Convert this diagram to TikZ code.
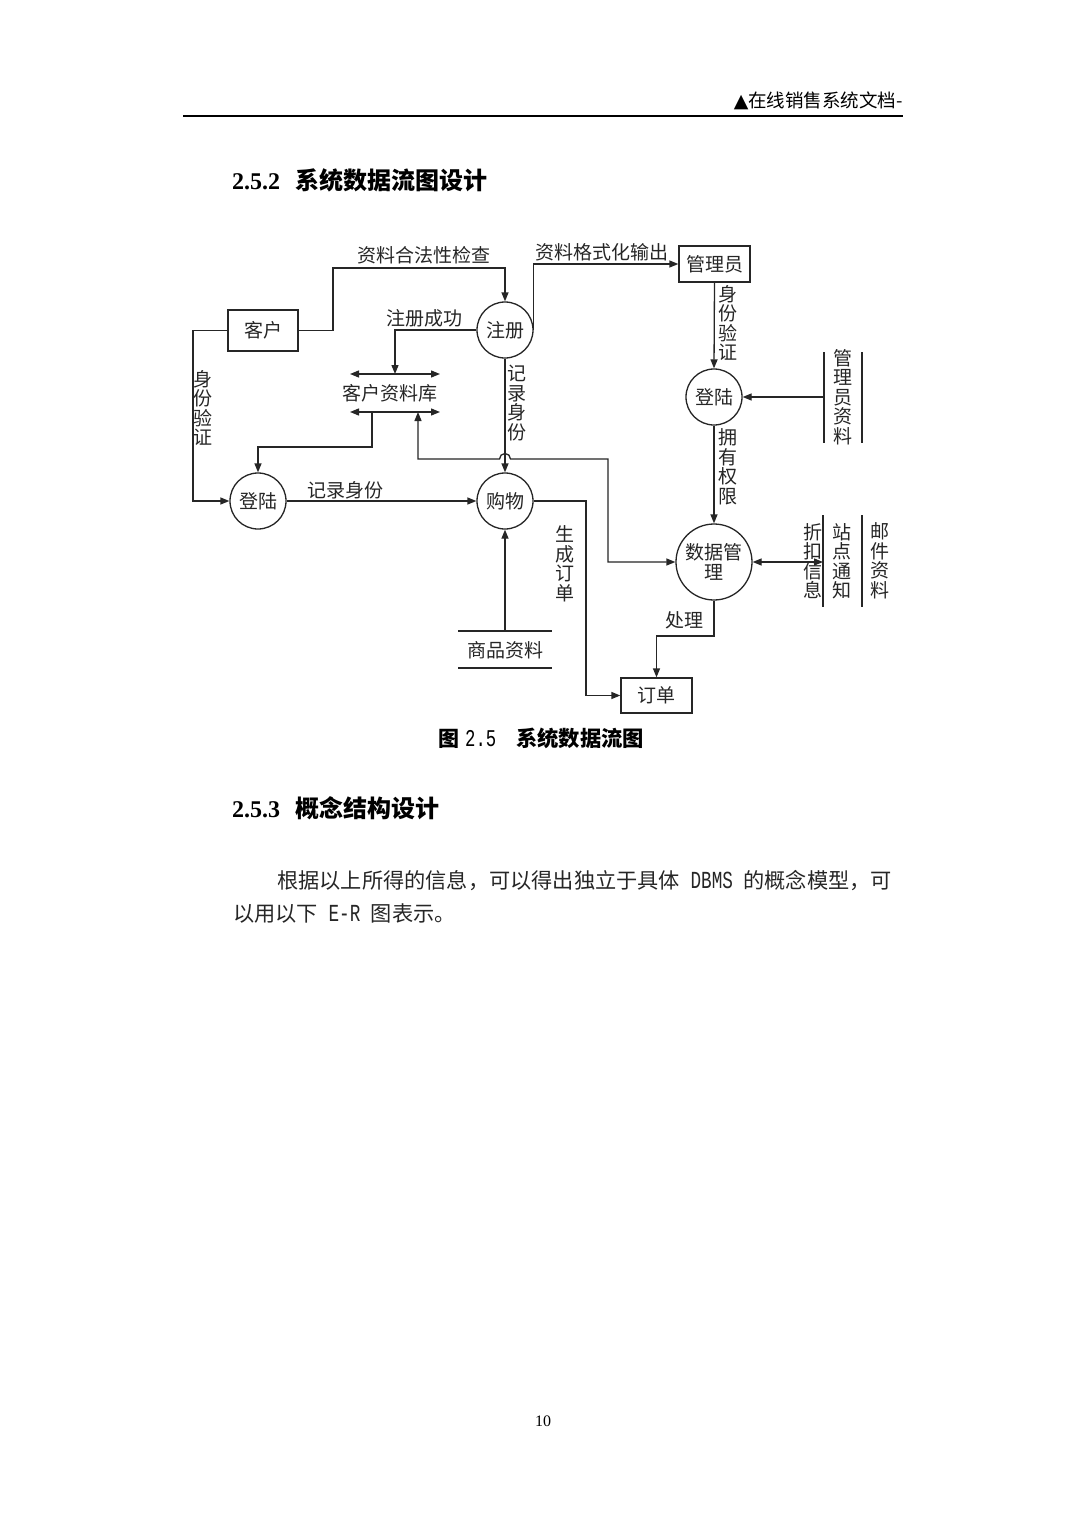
\documentclass[tikz,border=0pt]{standalone}
\usepackage{fontspec}
\setmainfont{Liberation Serif}
\newfontfamily\cjk{Noto Sans CJK SC}
\newfontfamily\monof[FakeStretch=0.72]{Liberation Mono}
\newfontfamily\symf{DejaVu Sans}
\usetikzlibrary{arrows.meta}
\newcommand\dfont{\cjk\fontsize{19}{19.5}\selectfont}
\begin{document}
\begin{tikzpicture}[x=1pt,y=-1pt,
  ln/.style={draw=black!85, line width=1.3pt},
  flow/.style={ln, -{Triangle[length=9pt,width=7pt]}},
  biflow/.style={ln, {Triangle[length=9pt,width=7pt]}-{Triangle[length=9pt,width=7pt]}},
  proc/.style={circle, draw=black!85, line width=1.3pt, minimum size=56pt, inner sep=0pt, font=\dfont, text=black!85},
  ent/.style={rectangle, draw=black!85, line width=1.3pt, inner sep=0pt, font=\dfont, text=black!85},
  lab/.style={inner sep=0pt, font=\dfont, text=black!85},
  vlab/.style={lab, align=center},
]
\useasboundingbox (0,0) rectangle (1087,1536);
\fill[white] (0,0) rectangle (1087,1536);

% ---------- page header ----------
\node[anchor=east, inner sep=0pt] (hdr) at (903,101)
  {{\symf\fontsize{19}{20}\selectfont ▲}{\cjk\fontsize{18.5}{20}\selectfont 在线销售系统文档-}};
\coordinate (rl) at (183,116);
\coordinate (rr) at (903,116);
\draw[line width=2.6pt] (rl) -- (rr);

% ---------- heading ----------
\node[anchor=west, inner sep=0pt] (h1) at (232,180)
  {{\fontsize{24}{26}\selectfont\bfseries 2.5.2}\hspace{15pt}{\cjk\fontsize{24}{26}\selectfont\bfseries 系统数据流图设计}};

% ---------- entities & processes ----------
\node[ent, minimum width=70pt, minimum height=41pt] (kh) at (263,330.5) {客户};
\node[ent, minimum width=71pt, minimum height=36pt] (gly) at (714.5,264) {管理员};
\node[ent, minimum width=71pt, minimum height=35pt] (dd) at (656.5,695.5) {订单};
\node[proc] (zc) at (505,330) {注册};
\node[proc] (dl1) at (258,501) {登陆};
\node[proc] (gw) at (505,501) {购物};
\node[proc] (dl2) at (714,397) {登陆};
\node[proc, minimum size=76pt, align=center] (sj) at (714,562) {数据管\\理};

% ---------- data stores ----------
% 客户资料库
\node[lab] (kzk) at (390,393) {客户资料库};
\coordinate (k1) at (350,374); \coordinate (k2) at (440,374);
\coordinate (k3) at (350,412); \coordinate (k4) at (440,412);
\draw[biflow] (k1) -- (k2);
\draw[biflow] (k3) -- (k4);
\coordinate (kin) at (395,374);
\coordinate (kout) at (372,412);
\coordinate (kin2) at (418,412);

% 商品资料
\node[lab] (spzl) at (505,650) {商品资料};
\coordinate (s1) at (458,631); \coordinate (s2) at (552,631);
\coordinate (s3) at (458,668); \coordinate (s4) at (552,668);
\draw[ln] (s1) -- (s2);
\draw[ln] (s3) -- (s4);
\coordinate (sout) at (505,631);

% 管理员资料
\node[vlab] (glyzl) at (843,397) {管\\理\\员\\资\\料};
\coordinate (g1) at (824,352); \coordinate (g2) at (824,443);
\coordinate (g3) at (862,352); \coordinate (g4) at (862,443);
\draw[ln] (g1) -- (g2);
\draw[ln] (g3) -- (g4);
\coordinate (gout) at (824,397);

% 折扣信息 / 站点通知 / 邮件资料
\node[vlab] (zkxx) at (813,561) {折\\扣\\信\\息};
\node[vlab] (zdtz) at (842,561) {站\\点\\通\\知};
\node[vlab] (yjzl) at (880,561) {邮\\件\\资\\料};
\coordinate (r1) at (823,515); \coordinate (r2) at (823,607);
\coordinate (r3) at (862,515); \coordinate (r4) at (862,607);
\draw[ln] (r1) -- (r2);
\draw[ln] (r3) -- (r4);
\coordinate (rin) at (823,562);

% ---------- flows ----------
% 客户 -> 注册
\draw[flow] (kh.east) -| (333,268) -| (zc.north);
\node[lab] (l1) at (424,255) {资料合法性检查};
% 客户 -> 登陆
\draw[flow] (kh.west) -| (193,501) -- (dl1.west);
\node[vlab] (l2) at (203,408) {身\\份\\验\\证};
% 注册 -> 客户资料库
\draw[flow] (zc.west) -| (kin);
\node[lab] (l3) at (424,318.5) {注册成功};
% 客户资料库 -> 登陆
\draw[flow] (kout) |- (258,447) -- (dl1.north);
% 客户资料库 <-> 数据管理 (with hop)
\draw[ln, {Triangle[length=9pt,width=7pt]}-{Triangle[length=9pt,width=7pt]}]
  (kin2) -- (418,459) -- (499.5,459) arc[start angle=180, end angle=360, radius=5.5]
  -- (608,459) -- (608,562) -- (sj.west);
% 注册 -> 购物
\draw[flow] (zc.south) -- (gw.north);
\node[vlab] (l4) at (517,403) {记\\录\\身\\份};
% 登陆 -> 购物
\draw[flow] (dl1.east) -- (gw.west);
\node[lab] (l5) at (345,490) {记录身份};
% 商品资料 -> 购物
\draw[flow] (sout) -- (gw.south);
% 购物 -> 订单
\draw[flow] (gw.east) -| (586,695.5) -- (dd.west);
\node[vlab] (l6) at (565,564) {生\\成\\订\\单};
% 注册 -> 管理员
\draw[flow] (zc.east) |- (gly.west);
\node[lab] (l7) at (602,252.5) {资料格式化输出};
% 管理员 -> 登陆
\draw[flow] (gly.south) -- (dl2.north);
\node[vlab] (l8) at (728,323) {身\\份\\验\\证};
% 管理员资料 -> 登陆
\draw[flow] (gout) -- (dl2.east);
% 登陆 -> 数据管理
\draw[flow] (dl2.south) -- (sj.north);
\node[vlab] (l9) at (728,467) {拥\\有\\权\\限};
% 数据管理 <-> stores
\draw[biflow] (sj.east) -- (rin);
% 数据管理 -> 订单
\draw[flow] (sj.south) -- (714,636) -| (dd.north);
\node[lab] (l10) at (684,620) {处理};

% ---------- caption ----------
\node[anchor=west, inner sep=0pt] (cap) at (438,738)
  {{\cjk\fontsize{21}{23}\selectfont\bfseries 图}\hspace{6pt}{\monof\fontsize{24}{26}\selectfont 2.5}\hspace{20pt}{\cjk\fontsize{21.3}{23}\selectfont\bfseries 系统数据流图}};

% ---------- section 2.5.3 ----------
\node[anchor=west, inner sep=0pt] (h2) at (232,808)
  {{\fontsize{24}{26}\selectfont\bfseries 2.5.3}\hspace{15pt}{\cjk\fontsize{24}{26}\selectfont\bfseries 概念结构设计}};

% ---------- body ----------
\node[anchor=west, inner sep=0pt, text=black!85] (b1) at (277,881)
  {{\cjk\fontsize{21.2}{24}\selectfont 根据以上所得的信息，可以得出独立于具体}\hspace{10.6pt}{\monof\fontsize{24.5}{26}\selectfont DBMS}\hspace{10.6pt}{\cjk\fontsize{21.2}{24}\selectfont 的概念模型，可}};
\node[anchor=west, inner sep=0pt, text=black!85] (b2) at (233,913)
  {{\cjk\fontsize{21.2}{24}\selectfont 以用以下}\hspace{10.6pt}{\monof\fontsize{24.5}{26}\selectfont E-R}\hspace{10.6pt}{\cjk\fontsize{21.2}{24}\selectfont 图表示。}};

% ---------- page number ----------
\node[inner sep=0pt] (pg) at (543,1421) {\fontsize{16}{18}\selectfont 10};
\end{tikzpicture}
\end{document}
